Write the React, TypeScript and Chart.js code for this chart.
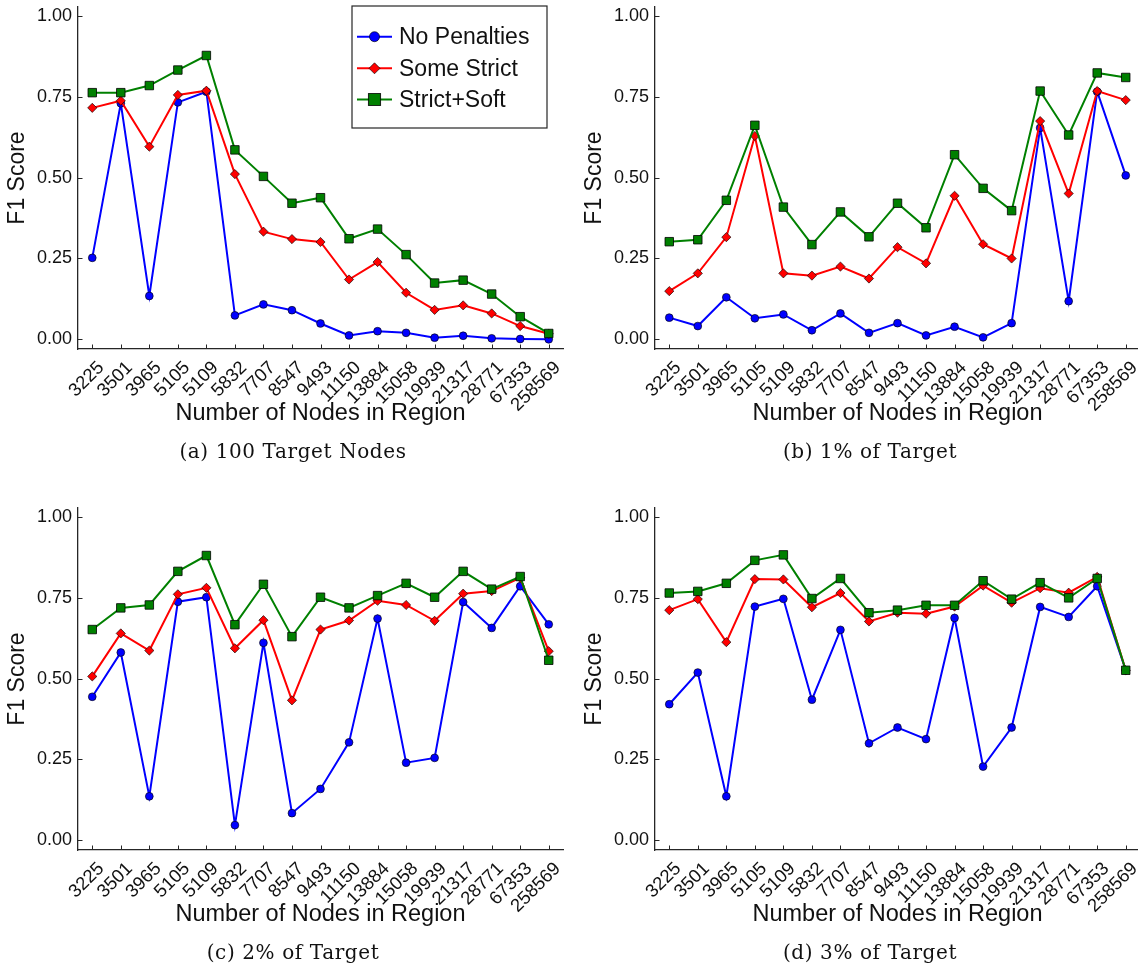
import React, { useEffect, useRef } from 'react';
import { Chart, registerables } from 'chart.js';

Chart.register(...registerables);

const CATEGORIES = ['3225', '3501', '3965', '5105', '5109', '5832', '7707', '8547', '9493', '11150', '13884', '15058', '19939', '21317', '28771', '67353', '258569'];
const Y_TICKS = [0, 0.25, 0.5, 0.75, 1.0];
const SERIES_NAMES = ['No Penalties', 'Some Strict', 'Strict+Soft'];
const X_TITLE = 'Number of Nodes in Region';
const Y_TITLE = 'F1 Score';

// (a) 100 Target Nodes
const A_NO = [0.252, 0.73, 0.134, 0.733, 0.766, 0.074, 0.108, 0.09, 0.049, 0.012, 0.025, 0.02, 0.005, 0.011, 0.003, 0.001, 0.0];
const A_SOME = [0.716, 0.738, 0.596, 0.756, 0.769, 0.511, 0.333, 0.31, 0.301, 0.185, 0.239, 0.144, 0.091, 0.105, 0.08, 0.041, 0.017];
const A_SOFT = [0.763, 0.763, 0.785, 0.833, 0.878, 0.586, 0.504, 0.421, 0.438, 0.311, 0.341, 0.262, 0.174, 0.183, 0.14, 0.07, 0.018];

// (b) 1% of Target
const B_NO = [0.067, 0.041, 0.13, 0.065, 0.077, 0.028, 0.08, 0.02, 0.05, 0.012, 0.039, 0.006, 0.05, 0.654, 0.118, 0.766, 0.507];
const B_SOME = [0.149, 0.204, 0.316, 0.629, 0.204, 0.197, 0.225, 0.188, 0.285, 0.235, 0.444, 0.294, 0.25, 0.675, 0.451, 0.768, 0.74];
const B_SOFT = [0.302, 0.308, 0.43, 0.662, 0.409, 0.293, 0.394, 0.317, 0.421, 0.345, 0.571, 0.467, 0.398, 0.768, 0.632, 0.824, 0.81];

// (c) 2% of Target
const C_NO = [0.444, 0.581, 0.136, 0.738, 0.752, 0.047, 0.611, 0.084, 0.159, 0.303, 0.686, 0.24, 0.255, 0.737, 0.657, 0.786, 0.668];
const C_SOME = [0.507, 0.64, 0.587, 0.761, 0.781, 0.594, 0.681, 0.433, 0.652, 0.68, 0.741, 0.728, 0.679, 0.763, 0.771, 0.812, 0.585];
const C_SOFT = [0.652, 0.719, 0.728, 0.832, 0.881, 0.667, 0.792, 0.63, 0.752, 0.719, 0.757, 0.795, 0.752, 0.832, 0.777, 0.816, 0.557];

// (d) 3% of Target
const D_NO = [0.421, 0.519, 0.136, 0.723, 0.747, 0.435, 0.651, 0.3, 0.349, 0.313, 0.688, 0.228, 0.349, 0.722, 0.691, 0.786, 0.526];
const D_SOME = [0.712, 0.746, 0.613, 0.808, 0.807, 0.721, 0.765, 0.677, 0.704, 0.701, 0.723, 0.788, 0.735, 0.78, 0.766, 0.815, 0.526];
const D_SOFT = [0.765, 0.77, 0.795, 0.866, 0.883, 0.748, 0.81, 0.704, 0.712, 0.727, 0.727, 0.803, 0.746, 0.797, 0.75, 0.81, 0.526];

const CAPTIONS = ['(a) 100 Target Nodes', '(b) 1% of Target', '(c) 2% of Target', '(d) 3% of Target'];

const COLORS = ['#0000ff', '#ff0000', '#008000'];
const STYLES = ['circle', 'rectRot', 'rect'];
const RADII = [3.9, 4.6, 6.0];
const SANS = "'Liberation Sans', Arial, Helvetica, sans-serif";
const AXIS_COLOR = '#262626';
const TEXT_COLOR = '#111111';

const innerTicks = {
  id: 'innerTicks',
  beforeDatasetsDraw(chart: any) {
    const { ctx, chartArea, scales } = chart;
    ctx.save();
    ctx.strokeStyle = AXIS_COLOR;
    ctx.lineWidth = 1;
    const xs = scales.x;
    xs.ticks.forEach((_: any, i: number) => {
      const px = Math.round(xs.getPixelForTick(i)) + 0.5;
      ctx.beginPath();
      ctx.moveTo(px, chartArea.bottom);
      ctx.lineTo(px, chartArea.bottom - 4.5);
      ctx.stroke();
    });
    const ys = scales.y;
    ys.ticks.forEach((_: any, i: number) => {
      const py = Math.round(ys.getPixelForTick(i)) + 0.5;
      ctx.beginPath();
      ctx.moveTo(chartArea.left, py);
      ctx.lineTo(chartArea.left + 4.5, py);
      ctx.stroke();
    });
    ctx.restore();
  },
};

function drawMarker(ctx: CanvasRenderingContext2D, kind: number, x: number, y: number) {
  ctx.save();
  ctx.fillStyle = COLORS[kind];
  ctx.strokeStyle = 'rgba(0,0,0,0.8)';
  ctx.lineWidth = kind === 2 ? 1.1 : 0.8;
  ctx.beginPath();
  if (kind === 0) {
    ctx.arc(x, y, 5, 0, Math.PI * 2);
  } else if (kind === 1) {
    const r = 5.5;
    ctx.moveTo(x, y - r);
    ctx.lineTo(x + r, y);
    ctx.lineTo(x, y + r);
    ctx.lineTo(x - r, y);
    ctx.closePath();
  } else {
    ctx.rect(x - 6, y - 6, 12, 12);
  }
  ctx.fill();
  ctx.stroke();
  ctx.restore();
}

const boxLegend = {
  id: 'boxLegend',
  afterDraw(chart: any) {
    const { ctx } = chart;
    ctx.save();
    ctx.fillStyle = '#ffffff';
    ctx.fillRect(352, 6, 195, 122);
    ctx.strokeStyle = AXIS_COLOR;
    ctx.lineWidth = 1.2;
    ctx.strokeRect(352, 6, 195, 122);
    const rows = [36.7, 68.3, 99.5];
    rows.forEach((ry, k) => {
      ctx.strokeStyle = COLORS[k];
      ctx.lineWidth = 2;
      ctx.beginPath();
      ctx.moveTo(357, ry);
      ctx.lineTo(392, ry);
      ctx.stroke();
      drawMarker(ctx, k, 374.5, ry);
      ctx.fillStyle = TEXT_COLOR;
      ctx.font = `23px ${SANS}`;
      ctx.textBaseline = 'middle';
      ctx.textAlign = 'left';
      ctx.fillText(SERIES_NAMES[k], 399, ry + 1);
    });
    ctx.restore();
  },
};

type PanelProps = {
  series: number[][];
  left: number;
  top: number;
  caption: string;
  legend?: boolean;
};

function Panel({ series, left, top, caption, legend }: PanelProps) {
  const ref = useRef<HTMLCanvasElement>(null);
  useEffect(() => {
    if (!ref.current) return;
    const datasets = series.map((vals, k) => ({
      label: SERIES_NAMES[k],
      data: vals,
      borderColor: COLORS[k],
      backgroundColor: COLORS[k],
      borderWidth: 2,
      pointStyle: STYLES[k],
      pointRadius: RADII[k],
      pointBorderColor: 'rgba(0,0,0,0.8)',
      pointBorderWidth: k === 2 ? 1 : 0.8,
      pointBackgroundColor: COLORS[k],
      tension: 0,
      order: 3 - k,
    }));
    const chart = new Chart(ref.current, {
      type: 'line',
      data: { labels: CATEGORIES, datasets },
      options: {
        responsive: false,
        animation: false,
        devicePixelRatio: 1,
        layout: { padding: { top: 3, right: 5, left: 0, bottom: 0 } },
        plugins: { legend: { display: false }, tooltip: { enabled: false } },
        scales: {
          x: {
            type: 'category',
            offset: true,
            grid: { display: false, drawTicks: false },
            border: { display: true, color: AXIS_COLOR, width: 1.3 },
            ticks: {
              autoSkip: false,
              minRotation: 45,
              maxRotation: 45,
              padding: 8,
              labelOffset: 9,
              color: TEXT_COLOR,
              font: { family: SANS, size: 18.5 },
            },
            title: {
              display: true,
              text: X_TITLE,
              color: TEXT_COLOR,
              font: { family: SANS, size: 23.5 },
              padding: { top: 0, bottom: 12 },
            },
            afterFit: (s: any) => {
              s.height = 91;
              s.paddingLeft = 0;
              s.paddingRight = 0;
            },
          },
          y: {
            type: 'linear',
            min: -0.03,
            max: 1.028,
            grid: { display: false, drawTicks: false },
            border: { display: true, color: AXIS_COLOR, width: 1.3 },
            afterBuildTicks: (s: any) => {
              s.ticks = Y_TICKS.map((v) => ({ value: v }));
            },
            ticks: {
              padding: 6,
              color: TEXT_COLOR,
              font: { family: SANS, size: 18 },
              callback: (v: any) => Number(v).toFixed(2),
            },
            title: {
              display: true,
              text: Y_TITLE,
              color: TEXT_COLOR,
              font: { family: SANS, size: 23 },
              padding: { top: 4, bottom: 0 },
            },
            afterFit: (s: any) => {
              s.width = 78;
              s.paddingTop = 0;
              s.paddingBottom = 0;
            },
          },
        },
      } as any,
      plugins: legend ? [innerTicks, boxLegend] : [innerTicks],
    });
    return () => chart.destroy();
  }, [series, legend]);

  return (
    <div style={{ position: 'absolute', left, top, width: 570, height: 470 }}>
      <canvas ref={ref} width={570} height={440} style={{ display: 'block', width: 570, height: 440 }} />
      <div
        style={{
          position: 'absolute',
          left: 0,
          top: 438,
          width: 586,
          height: 26,
          lineHeight: '26px',
          textAlign: 'center',
          fontFamily: "'DejaVu Serif', serif",
          fontSize: 20,
          letterSpacing: '0.6px',
          color: TEXT_COLOR,
          whiteSpace: 'nowrap',
        }}
      >
        {caption}
      </div>
    </div>
  );
}

const PANEL_A = [A_NO, A_SOME, A_SOFT];
const PANEL_B = [B_NO, B_SOME, B_SOFT];
const PANEL_C = [C_NO, C_SOME, C_SOFT];
const PANEL_D = [D_NO, D_SOME, D_SOFT];

export default function App() {
  return (
    <div style={{ position: 'absolute', left: 0, top: 0, width: 1138, height: 964, background: '#ffffff', overflow: 'hidden' }}>
      <Panel series={PANEL_A} left={0} top={0} caption={CAPTIONS[0]} legend />
      <Panel series={PANEL_B} left={577} top={0} caption={CAPTIONS[1]} />
      <Panel series={PANEL_C} left={0} top={501} caption={CAPTIONS[2]} />
      <Panel series={PANEL_D} left={577} top={501} caption={CAPTIONS[3]} />
    </div>
  );
}
